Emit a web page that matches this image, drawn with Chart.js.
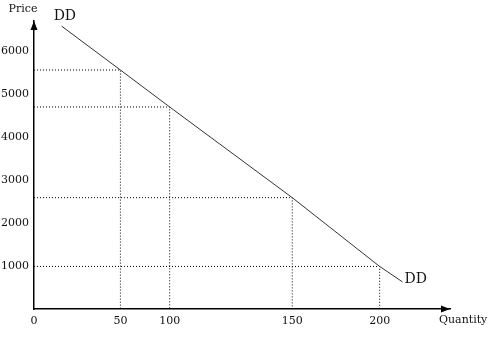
<!DOCTYPE html>
<html>
<head>
<meta charset="utf-8">
<script src="https://cdn.jsdelivr.net/npm/chart.js@4/dist/chart.umd.min.js"></script>
<style>
  body { margin: 0; background: #fff; }
  #wrap { width: 493px; height: 342px; }
</style>
</head>
<body>
<div id="wrap"><canvas id="demand"></canvas></div>
<script>
'use strict';

// demand curve DD (quantity, price)
const ddQuantity = [16, 50, 100, 150, 200, 213];
const ddPrice = [6580, 5560, 4700, 2590, 990, 630];

// points marked with dotted guide lines
const markQuantity = [50, 100, 150, 200];
const markPrice = [5560, 4700, 2590, 990];

const xTicks = [0, 50, 100, 150, 200];
const xTickLabels = ["0", "50", "100", "150", "200"];
const yTicks = [1000, 2000, 3000, 4000, 5000, 6000];
const yTickLabels = ["1000", "2000", "3000", "4000", "5000", "6000"];

const serif = '"DejaVu Serif", serif';

// the drawing's quantity axis is not evenly spaced, so map value -> axis fraction by knots
class WarpedScale extends Chart.LinearScale {
    static id = 'warped';
    static defaults = Chart.LinearScale.defaults;

    getPixelForValue(value){
        if(value === null || value === undefined) return NaN;
        const k = this.options.knots;
        let dec;
        if(value <= k[0][0]){
            dec = k[0][1];
        }else if(value >= k[k.length - 1][0]){
            dec = k[k.length - 1][1];
        }else{
            for(var i = 1; i < k.length; i++){
                if(value <= k[i][0]){
                    const t = (value - k[i-1][0]) / (k[i][0] - k[i-1][0]);
                    dec = k[i-1][1] + t * (k[i][1] - k[i-1][1]);
                    break;
                }
            }
        }
        return this.getPixelForDecimal(dec);
    }

    getValueForPixel(pixel){
        const dec = this.getDecimalForPixel(pixel);
        const k = this.options.knots;
        for(var i = 1; i < k.length; i++){
            if(dec <= k[i][1]){
                const t = (dec - k[i-1][1]) / (k[i][1] - k[i-1][1]);
                return k[i-1][0] + t * (k[i][0] - k[i-1][0]);
            }
        }
        return k[k.length - 1][0];
    }
}
Chart.register(WarpedScale);

const datasets = [];

datasets.push({
    data: ddQuantity.map((q, i) => ({x: q, y: ddPrice[i]})),
    borderColor: "#333",
    borderWidth: 1,
    pointRadius: 0,
    tension: 0
});

markQuantity.forEach((q, i) => {
    datasets.push({
        data: [{x: 0, y: markPrice[i]}, {x: q, y: markPrice[i]}, {x: q, y: 0}],
        borderColor: "#000",
        borderWidth: 1,
        borderDash: [1, 2],
        pointRadius: 0,
        tension: 0
    });
});

const labelsPlugin = {
    id: 'labels',
    afterDraw(chart){
        const ctx = chart.ctx;
        const xs = chart.scales.x, ys = chart.scales.y;
        ctx.save();
        ctx.fillStyle = "#000";

        // axis arrows
        ctx.beginPath();
        ctx.moveTo(xs.left, ys.top);
        ctx.lineTo(xs.left - 3.5, ys.top + 9);
        ctx.lineTo(xs.left + 3.5, ys.top + 9);
        ctx.closePath();
        ctx.fill();

        ctx.beginPath();
        ctx.moveTo(xs.right, ys.bottom);
        ctx.lineTo(xs.right - 9, ys.bottom - 3.5);
        ctx.lineTo(xs.right - 9, ys.bottom + 3.5);
        ctx.closePath();
        ctx.fill();

        ctx.fillStyle = "#111";
        ctx.textBaseline = "middle";
        ctx.font = "11px " + serif;
        ctx.textAlign = "center";
        ctx.fillText("Price", xs.left - 11, ys.top - 12);
        ctx.textAlign = "left";
        ctx.fillText("Quantity", xs.right - 11, ys.bottom + 11);

        const first = chart.getDatasetMeta(0).data[0];
        const last = chart.getDatasetMeta(0).data[ddQuantity.length - 1];
        ctx.font = "14px " + serif;
        ctx.fillText("DD", first.x - 8, first.y - 10);
        ctx.fillText("DD", last.x + 2, last.y - 3);
        ctx.restore();
    }
};

new Chart(document.getElementById("demand"), {
    type: 'line',
    data: { datasets: datasets },
    plugins: [labelsPlugin],
    options: {
        responsive: true,
        maintainAspectRatio: false,
        animation: false,
        events: [],
        layout: { padding: { top: 21, right: 43, left: 0, bottom: 0 } },
        plugins: { legend: { display: false }, tooltip: { enabled: false } },
        scales: {
            x: {
                type: 'warped',
                min: 0,
                max: 240,
                knots: [[0, 0], [50, 0.2077], [100, 0.3261], [150, 0.6208], [200, 0.8309], [240, 1]],
                grid: { display: false, drawTicks: false },
                border: { display: true, color: "#000", width: 1.5 },
                afterBuildTicks: s => { s.ticks = xTicks.map(v => ({value: v})); },
                afterFit: s => { s.height = 33; },
                ticks: {
                    padding: 6,
                    color: "#111",
                    font: { family: serif, size: 11 },
                    maxRotation: 0,
                    callback: (v) => xTickLabels[xTicks.indexOf(v)]
                }
            },
            y: {
                type: 'linear',
                min: 0,
                max: 6700,
                grid: { display: false, drawTicks: false },
                border: { display: true, color: "#000", width: 1.5 },
                afterBuildTicks: s => { s.ticks = yTicks.map(v => ({value: v})); },
                afterFit: s => { s.width = 34; },
                ticks: {
                    padding: 5,
                    color: "#111",
                    font: { family: serif, size: 11 },
                    callback: (v) => yTickLabels[yTicks.indexOf(v)]
                }
            }
        }
    }
});
</script>
</body>
</html>
